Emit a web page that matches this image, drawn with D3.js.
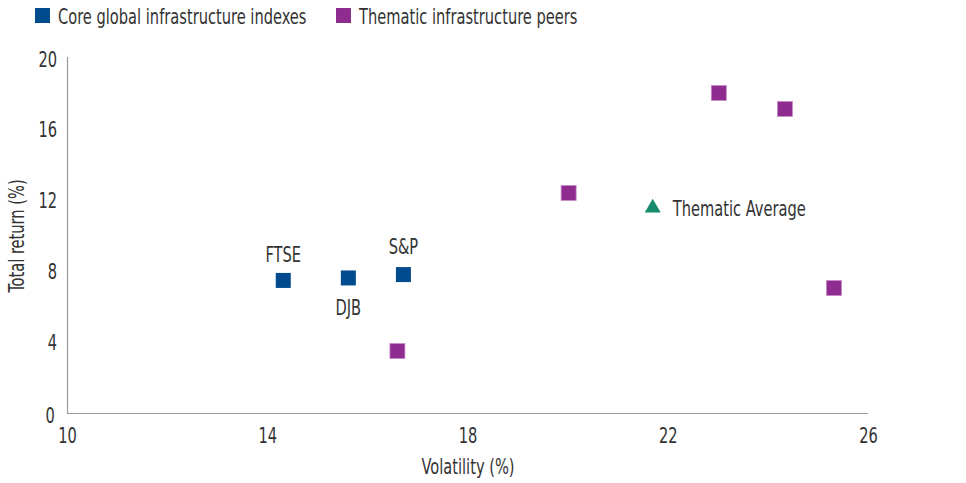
<!DOCTYPE html>
<html><head><meta charset="utf-8">
<script src="https://cdn.jsdelivr.net/npm/d3@7"></script>
<style>
body{margin:0;background:#fff;}
text{font-family:"DejaVu Sans Condensed","DejaVu Sans",sans-serif;font-stretch:condensed;fill:#333;}
</style></head>
<body><svg id="c" width="966" height="483"></svg>
<script>
const coreNames = ["FTSE","DJB","S&P"];
const coreVol = [14.32,15.62,16.72];
const coreRet = [7.49,7.63,7.82];
const themVol = [16.6,20.02,23.02,24.34,25.32];
const themRet = [3.5,12.43,18.08,17.18,7.06];
const avgVol = [21.7];
const avgRet = [11.64];
const xTicks = [10,14,18,22,26];
const yTicks = [0,4,8,12,16,20];
const legendLabels = ["Core global infrastructure indexes","Thematic infrastructure peers"];

const svg = d3.select("#c");
const x = d3.scaleLinear().domain([10,26]).range([67,868]);
const y = d3.scaleLinear().domain([0,20]).range([413,59]);
const blue="#004b8d", purple="#8f2c8f", green="#168a6c";
const fs="22px";
const K=0.74;

// axes
const gx = svg.append("g").attr("transform","translate(0,413)")
  .call(d3.axisBottom(x).tickValues(xTicks).tickSize(0).tickPadding(14));
const gy = svg.append("g").attr("transform","translate(67,0)")
  .call(d3.axisLeft(y).tickValues(yTicks).tickSize(0).tickPadding(10));
[gx,gy].forEach(g=>{g.select(".domain").attr("stroke","#999").attr("stroke-width",1.2);
  g.selectAll("text").style("font-size",fs).attr("fill","#333")
   .style("font-family",'"DejaVu Sans Condensed","DejaVu Sans",sans-serif');});
gy.select(".domain").attr("d","M0.5,57V413.5");
gx.select(".domain").attr("d","M67,0.5H868");
gy.selectAll(".tick").filter(d=>d===0).select("text").attr("dx",-3).attr("dy","0.45em");

svg.append("text").attr("x",468).attr("y",474).attr("text-anchor","middle")
  .style("font-size",fs).text("Volatility (%)");
svg.append("text").attr("transform","translate(24,236) rotate(-90)").attr("text-anchor","middle")
  .style("font-size",fs).text("Total return (%)");

// legend
const leg = [[35,blue],[336,purple]];
leg.forEach((l,i)=>{
  svg.append("rect").attr("x",l[0]).attr("y",8).attr("width",15).attr("height",15).attr("fill",l[1]);
  svg.append("text").attr("x",l[0]+23).attr("y",24).style("font-size",fs).text(legendLabels[i]);
});

const s=15;
svg.selectAll(".core").data(coreVol).enter().append("rect")
  .attr("x",(d)=>x(d)-s/2).attr("y",(d,i)=>y(coreRet[i])-s/2).attr("width",s).attr("height",s)
  .attr("fill",blue);
svg.selectAll(".them").data(themVol).enter().append("rect")
  .attr("x",(d)=>x(d)-s/2).attr("y",(d,i)=>y(themRet[i])-s/2).attr("width",s).attr("height",s)
  .attr("fill",purple).attr("stroke","#c88ac8").attr("stroke-width",0.8);
svg.selectAll(".avg").data(avgVol).enter().append("path")
  .attr("transform",(d,i)=>`translate(${x(d)},${y(avgRet[i])+1})`)
  .attr("d",d3.symbol(d3.symbolTriangle,110)).attr("fill",green);
svg.append("text").attr("x",x(avgVol[0])+20).attr("y",y(avgRet[0])+9).style("font-size",fs).text("Thematic Average");

const off=[[0,-18],[0,37],[0,-21]];
coreNames.forEach((n,i)=>{
  svg.append("text").attr("x",x(coreVol[i])+off[i][0]).attr("y",y(coreRet[i])+off[i][1])
   .attr("text-anchor","middle").style("font-size",fs).text(n);
});

// condense all text horizontally via a scale transform
svg.selectAll("text").each(function(){
  const t=d3.select(this);
  const x0=+(t.attr("x")||0);
  const tr=t.attr("transform")||"";
  t.attr("x",x0/K).attr("transform",(tr+" scale("+K+",1)").trim());
});
</script></body></html>
